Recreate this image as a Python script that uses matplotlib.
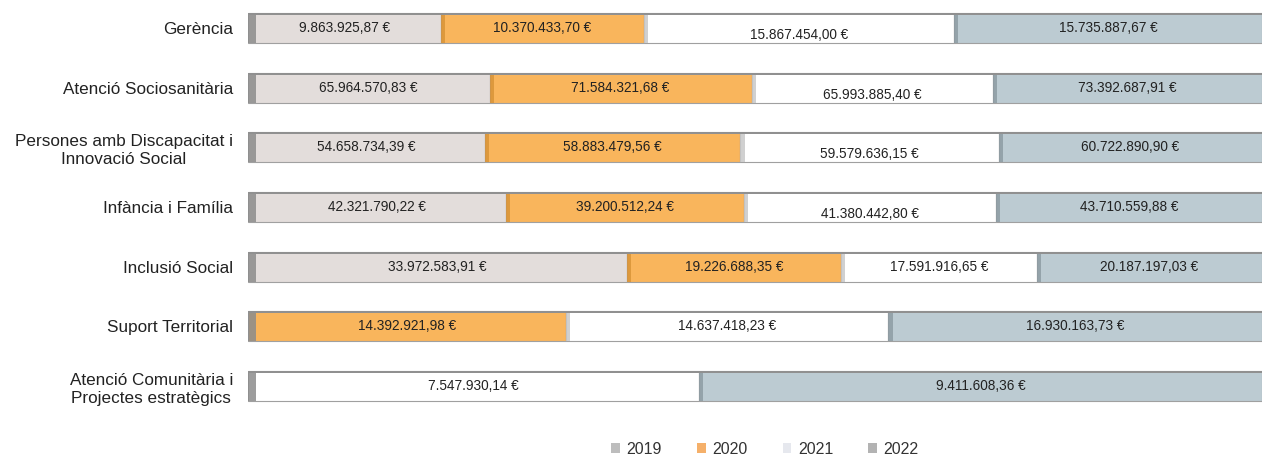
import matplotlib
matplotlib.use('Agg')
import matplotlib.pyplot as plt
from matplotlib.patches import Patch
import numpy as np

categories = [
    'Gerència',
    'Atenció Sociosanitària',
    'Persones amb Discapacitat i\nInnovació Social',
    'Infància i Família',
    'Inclusió Social',
    'Suport Territorial',
    'Atenció Comunitària i\nProjectes estratègics',
]
years = ['2019', '2020', '2021', '2022']
v2019 = [9863925.87, 65964570.83, 54658734.39, 42321790.22, 33972583.91, 0, 0]
v2020 = [10370433.70, 71584321.68, 58883479.56, 39200512.24, 19226688.35, 14392921.98, 0]
v2021 = [15867454.00, 65993885.40, 59579636.15, 41380442.80, 17591916.65, 14637418.23, 7547930.14]
v2022 = [15735887.67, 73392687.91, 60722890.90, 43710559.88, 20187197.03, 16930163.73, 9411608.36]

colors = ['#e3dddb', '#f9b55c', '#ffffff', '#bccbd2']
caps = ['#a9a3a1', '#d99438', '#c8c8c8', '#8e9ca3']
legend_colors = ['#bdbdbd', '#f5b06a', '#e6e8ee', '#b3b3b3']

plt.rcParams['font.family'] = ['Liberation Sans', 'DejaVu Sans']


def euro(v):
    s = f'{v:,.2f}'
    s = s.replace(',', 'X').replace('.', ',').replace('X', '.')
    return s + ' €'


W, H = 1264, 458
fig = plt.figure(figsize=(W / 100, H / 100), dpi=100)
ax_l, ax_r, ax_t, ax_b = 248, 1262, 8, 406
ax = fig.add_axes([ax_l / W, 1 - ax_b / H, (ax_r - ax_l) / W, (ax_b - ax_t) / H])

data = np.array([v2019, v2020, v2021, v2022])
totals = data.sum(axis=0)
y = np.arange(len(categories))
bh = 0.5
cap_w = 7 / (ax_r - ax_l)
left = np.zeros(len(categories))
for i, yr in enumerate(years):
    share = data[i] / totals
    ax.barh(y, share, left=left, height=bh, color=colors[i],
            edgecolor='#a0a0a0', linewidth=0.8)
    # shading at the start of each segment
    for j in range(len(categories)):
        if data[i, j] > 0:
            first = left[j] == 0
            ax.barh(y[j], cap_w * (1.2 if first else 0.6), left=left[j], height=bh,
                    color='#8c8c8c' if first else caps[i], linewidth=0, alpha=0.85)
            dy = 0.12 if (i == 2 and j < 4) else 0.0
            ax.text(left[j] + share[j] / 2, y[j] + dy, euro(data[i, j]),
                    ha='center', va='center', fontsize=9.8, color='#222222')
    left += share

# darker top edge for the 3D look
ax.barh(y - bh / 2 + 0.015, 1, height=0.03, color='#909090', linewidth=0)

ax.set_xlim(0, 1)
ax.set_ylim(6.335, -0.335)
ax.set_yticks(y)
ax.set_yticklabels(categories, fontsize=12.3, color='#222222',
                   multialignment='center', linespacing=1.3)
ax.tick_params(axis='y', length=0, pad=10.8)
ax.set_xticks([])
for s in ax.spines.values():
    s.set_visible(False)

handles = [Patch(facecolor=c, edgecolor='none') for c in legend_colors]
fig.legend(handles, years, loc='center', bbox_to_anchor=(765 / W, 1 - 449 / H),
           ncol=4, frameon=False, fontsize=11.5, handlelength=0.55,
           handleheight=0.55, handletextpad=0.4, columnspacing=2.2,
           labelcolor='#333333')

fig.savefig('out.png', dpi=100)
